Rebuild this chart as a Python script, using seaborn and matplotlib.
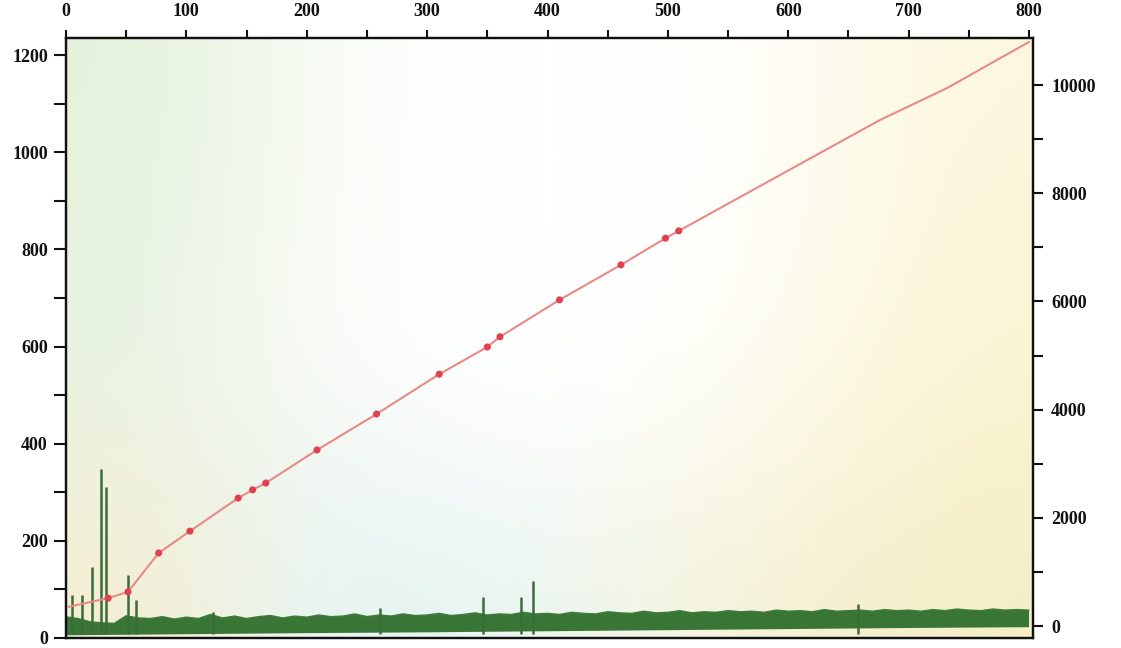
import numpy as np
import matplotlib
matplotlib.use("Agg")
import matplotlib.pyplot as plt
import seaborn as sns

# ---- data ----
line_x = [2, 35, 51.5, 77, 103, 143, 155, 166, 208.5, 258, 310, 350, 360.5, 410, 461, 498, 509, 676, 732, 800]
line_y = [64, 82, 95, 175, 220, 288, 305, 319, 387, 461, 543, 599, 620, 696, 768, 823, 838, 1066, 1132, 1227]
marker_x = [35, 51.5, 77, 103, 143, 155, 166, 208.5, 258, 310, 350, 360.5, 410, 461, 498, 509]
marker_y = [82, 95, 175, 220, 288, 305, 319, 387, 461, 543, 599, 620, 696, 768, 823, 838]

band_x = [0, 10, 20, 30, 40, 50, 60, 70, 80, 90, 100, 110, 120, 130, 140, 150, 160, 170, 180, 190,
          200, 210, 220, 230, 240, 250, 260, 270, 280, 290, 300, 310, 320, 330, 340, 350, 360, 370, 380, 390,
          400, 410, 420, 430, 440, 450, 460, 470, 480, 490, 500, 510, 520, 530, 540, 550, 560, 570, 580, 590,
          600, 610, 620, 630, 640, 650, 660, 670, 680, 690, 700, 710, 720, 730, 740, 750, 760, 770, 780, 790, 800]
band_top = [170, 140, 80, 60, 50, 190, 150, 140, 175, 130, 165, 140, 215, 150, 185, 140, 175, 195, 150, 185,
            165, 205, 175, 185, 225, 175, 205, 185, 225, 195, 205, 235, 195, 215, 245, 205, 225, 215, 255, 225,
            235, 215, 255, 235, 225, 265, 245, 235, 275, 245, 255, 285, 245, 265, 255, 285, 265, 275, 255, 295,
            275, 285, 265, 305, 275, 285, 295, 275, 305, 285, 295, 275, 305, 285, 315, 295, 285, 315, 295, 305, 295]
base_x = [0, 100, 200, 300, 400, 500, 600, 700, 800]
base_y = [-170, -150, -130, -115, -95, -75, -55, -35, -20]

spike_x = [5, 13.3, 21.6, 29.1, 33.2, 51.5, 58.1, 122, 260.8, 346.4, 378, 388, 658]
spike_h = [573, 573, 1090, 2900, 2570, 943, 480, 260, 333, 536, 536, 832, 407]

x_ticks = [0, 100, 200, 300, 400, 500, 600, 700, 800]
left_ticks = [0, 200, 400, 600, 800, 1000, 1200]
right_ticks = [0, 2000, 4000, 6000, 8000, 10000]

# ---- style ----
sns.set_style("ticks")
plt.rcParams['font.family'] = ['Liberation Serif', 'DejaVu Serif']
plt.rcParams['font.weight'] = 'bold'

fig = plt.figure(figsize=(11.21, 6.48), dpi=100)
ax = fig.add_axes([66/1121, 10/648, (1033-66)/1121, 600/648])
ax2 = ax.twinx()
ax.set_zorder(ax2.get_zorder() + 1)
ax.patch.set_visible(False)

# photographic background tint
bg = np.array([
    [(228, 242, 220), (243, 249, 238), (255, 255, 255), (255, 255, 255), (255, 255, 255), (254, 252, 240), (252, 247, 222)],
    [(230, 242, 222), (245, 250, 240), (255, 255, 255), (255, 255, 255), (255, 255, 255), (254, 252, 238), (251, 246, 218)],
    [(232, 243, 226), (246, 250, 242), (255, 255, 255), (255, 255, 255), (255, 255, 252), (253, 250, 232), (250, 245, 212)],
    [(238, 242, 222), (240, 246, 238), (245, 250, 250), (250, 253, 252), (252, 251, 240), (250, 246, 222), (248, 242, 205)],
    [(245, 238, 210), (235, 244, 238), (230, 244, 244), (236, 246, 240), (245, 244, 225), (246, 240, 210), (244, 238, 200)],
], dtype=float) / 255.0
ax2.imshow(bg, extent=(0, 1, 0, 1), transform=ax2.transAxes, aspect='auto',
           interpolation='bicubic', zorder=0)

# chromatogram-like green signal (right axis)
poly_x = list(band_x) + base_x[::-1]
poly_y = list(band_top) + base_y[::-1]
ax2.fill(poly_x, poly_y, color='#2f6f2c', alpha=0.95, lw=0, zorder=2)
sns.lineplot(x=band_x, y=band_top, ax=ax2, color='#3f7d3a', lw=1.0, zorder=3)
ax2.vlines(spike_x, -150, spike_h, color='#3c6b3c', lw=1.8, zorder=3)

# red calibration line (left axis)
sns.lineplot(x=line_x, y=line_y, ax=ax, color='#e88a86', lw=1.5, zorder=4)
sns.scatterplot(x=marker_x, y=marker_y, ax=ax, color='#e0404f', s=26, edgecolor='none', zorder=5)

ax.set_xlim(0, 803.3)
ax.set_ylim(0, 1235)
ax2.set_xlim(0, 803.3)
ax2.set_ylim(-220, 10869)

ax.xaxis.tick_top()
ax.set_xticks(x_ticks)
ax.set_xticks([50, 150, 250, 350, 450, 550, 650, 750], minor=True)
ax.set_yticks(left_ticks)
ax.set_yticks([100, 300, 500, 700, 900, 1100], minor=True)
ax2.set_yticks(right_ticks)
ax2.set_yticks([1000, 3000, 5000, 7000, 9000], minor=True)
ax.set_xticklabels([str(v) for v in x_ticks])
ax.set_yticklabels([str(v) for v in left_ticks])
ax2.set_yticklabels([str(v) for v in right_ticks])

ax.tick_params(axis='x', which='both', top=True, bottom=False, labeltop=True, labelbottom=False,
               length=6, width=1.5, direction='out', pad=7, labelsize=13, colors='#111111')
ax.tick_params(axis='y', which='both', left=True, right=False, length=9, width=1.5,
               direction='out', pad=4, labelsize=13, colors='#111111')
ax2.tick_params(axis='y', which='both', right=True, left=False, length=7, width=1.5,
                direction='out', pad=6, labelsize=13, colors='#111111')
for a in (ax, ax2):
    for s in a.spines.values():
        s.set_visible(True)
        s.set_linewidth(1.6)
        s.set_color('#111111')
ax.set_xlabel('')
ax.set_ylabel('')
ax2.set_ylabel('')

fig.savefig('out.png', dpi=100)
